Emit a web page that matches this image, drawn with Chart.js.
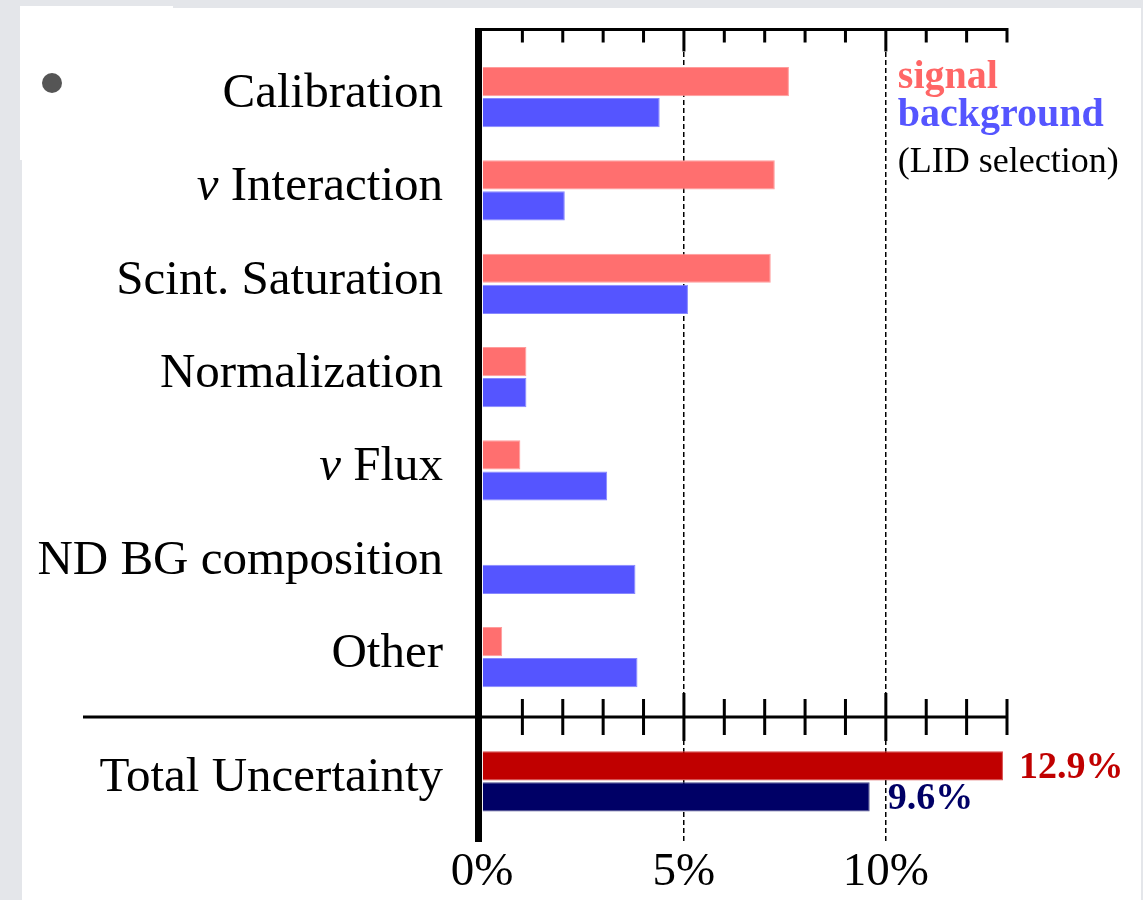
<!DOCTYPE html>
<html>
<head>
<meta charset="utf-8">
<script src="https://cdn.jsdelivr.net/npm/chart.js@4"></script>
<style>
  body { margin: 0; background: #e4e6ea; width: 1143px; height: 900px; position: relative; overflow: hidden; }
  #panel { position: absolute; left: 22px; top: 8px; width: 1119px; height: 892px; background: #fff; }
  #corner { position: absolute; left: 20px; top: 6px; width: 153px; height: 154px; background: #fff; }
  #dot { position: absolute; left: 42px; top: 73px; width: 20px; height: 20px; border-radius: 50%; background: #555; }
  #chart { position: absolute; left: 0; top: 0; }
</style>
</head>
<body>
<div id="panel"></div>
<div id="corner"></div>
<div id="dot"></div>
<canvas id="chart" width="1143" height="900"></canvas>
<script>
// data
let categories = ["Calibration", "ν Interaction", "Scint. Saturation", "Normalization", "ν Flux", "ND BG composition", "Other"];
let signal = [7.6, 7.25, 7.15, 1.1, 0.95, 0, 0.5];
let background = [4.4, 2.05, 5.1, 1.1, 3.1, 3.8, 3.85];
let totalLabel = "Total Uncertainty";
let totalSignal = 12.9;
let totalBackground = 9.6;
let xTickValues = [0, 5, 10];
let xMax = 13;

// layout of the rows on the y scale
let totalPos = 7.33;
let splitPos = 6.64;
let rowLabels = categories.concat([totalLabel]);
let rowPos = categories.map((c, i) => i).concat([totalPos]);

let serif = "'Liberation Serif', 'DejaVu Serif', serif";

// row labels (the greek nu is set in italic, so they are drawn here)
const rowText = {
    id: "rowText",
    afterDraw(chart) {
        const { ctx, chartArea, scales: { y } } = chart;
        const right = chartArea.left - 39;
        ctx.save();
        ctx.fillStyle = "#000";
        ctx.textBaseline = "middle";
        ctx.textAlign = "right";
        rowLabels.forEach((label, i) => {
            const py = y.getPixelForValue(rowPos[i]) - 3;
            ctx.font = "49px " + serif;
            if (label.startsWith("ν ")) {
                const rest = label.slice(1);
                ctx.fillText(rest, right, py);
                const w = ctx.measureText(rest).width;
                ctx.font = "italic 49px " + serif;
                ctx.fillText("ν", right - w, py);
            } else {
                ctx.fillText(label, right, py);
            }
        });
        ctx.restore();
    }
};

// extra axis lines, minor ticks and text
const decorations = {
    id: "decorations",
    afterDatasetsDraw(chart) {
        const { ctx, chartArea, scales: { x, y } } = chart;
        const right = x.getPixelForValue(xMax);
        const midY = y.getPixelForValue(splitPos);
        const top = chartArea.top + 1.5;

        ctx.save();
        ctx.fillStyle = "#000";
        ctx.strokeStyle = "#000";

        // thick vertical axis
        ctx.fillRect(chartArea.left - 7, chartArea.top, 7, chartArea.bottom - chartArea.top);

        ctx.lineWidth = 3;
        ctx.beginPath();
        ctx.moveTo(chartArea.left - 7, top);
        ctx.lineTo(right + 1.5, top);
        ctx.moveTo(83, midY);
        ctx.lineTo(right + 1.5, midY);

        for (let v = 1; v <= xMax; v++) {
            const px = x.getPixelForValue(v);
            const major = v % 5 === 0;
            ctx.moveTo(px, top);
            ctx.lineTo(px, top + (major ? 22 : 13));
            ctx.moveTo(px, midY - (major ? 24 : 18));
            ctx.lineTo(px, midY + (major ? 24 : 18));
        }
        ctx.stroke();

        // total value labels
        ctx.font = "bold 38px " + serif;
        ctx.textBaseline = "middle";
        ctx.textAlign = "left";
        const sBar = chart.getDatasetMeta(0).data[categories.length];
        const bBar = chart.getDatasetMeta(1).data[categories.length];
        ctx.fillStyle = "#c00000";
        ctx.fillText(totalSignal + "%", sBar.x + 16, sBar.y + 2);
        ctx.fillStyle = "#000066";
        ctx.fillText(totalBackground + "%", bBar.x + 18, bBar.y + 2);

        // legend
        const lx = x.getPixelForValue(10) + 12;
        ctx.font = "bold 40px " + serif;
        ctx.fillStyle = "#ff6666";
        ctx.fillText("signal", lx, 78);
        ctx.fillStyle = "#5555ff";
        ctx.fillText("background", lx, 116);
        ctx.font = "36px " + serif;
        ctx.fillStyle = "#000";
        ctx.fillText("(LID selection)", lx, 163);
        ctx.restore();
    }
};

function toPoints(values, total) {
    return values.map((v, i) => ({ x: v, y: rowPos[i] })).concat([{ x: total, y: totalPos }]);
}

let ctx = document.getElementById("chart").getContext("2d");

let chart = new Chart(ctx, {
    type: "bar",
    data: {
        datasets: [{
            label: "signal",
            data: toPoints(signal, totalSignal),
            backgroundColor: c => c.dataIndex === categories.length ? "#c00000" : "#ff6f6f",
            borderColor: c => c.dataIndex === categories.length ? "#d84a4a" : "#ff9c9c",
            borderWidth: 1
        }, {
            label: "background",
            data: toPoints(background, totalBackground),
            backgroundColor: c => c.dataIndex === categories.length ? "#000066" : "#5555ff",
            borderColor: c => c.dataIndex === categories.length ? "#4a4a8a" : "#8888ff",
            borderWidth: 1
        }]
    },
    options: {
        indexAxis: "y",
        responsive: false,
        devicePixelRatio: 1,
        animation: false,
        categoryPercentage: 0.665,
        barPercentage: 0.94,
        layout: { padding: { top: 28, right: 136, bottom: 0, left: 0 } },
        plugins: { legend: { display: false }, tooltip: { enabled: false } },
        scales: {
            x: {
                type: "linear",
                position: "bottom",
                min: 0,
                max: xMax,
                afterFit: axis => {
                    axis.height = 58;
                    axis.paddingLeft = 0;
                    axis.paddingRight = 0;
                },
                afterBuildTicks: axis => { axis.ticks = xTickValues.map(v => ({ value: v })); },
                border: { display: false, dash: [5, 3] },
                grid: {
                    drawTicks: false,
                    color: c => c.tick && c.tick.value === 0 ? "rgba(0,0,0,0)" : "#000",
                    lineWidth: 1.5
                },
                ticks: {
                    padding: 2,
                    color: "#000",
                    font: { family: serif, size: 47 },
                    callback: v => v + "%"
                }
            },
            y: {
                type: "linear",
                reverse: true,
                offset: false,
                min: -0.74,
                max: 7.98,
                afterFit: axis => {
                    axis.width = 482;
                    axis.paddingTop = 0;
                    axis.paddingBottom = 0;
                },
                afterBuildTicks: axis => { axis.ticks = rowPos.map(v => ({ value: v })); },
                border: { display: false },
                grid: { display: false, drawTicks: false },
                ticks: { display: false }
            }
        }
    },
    plugins: [decorations, rowText]
});
</script>
</body>
</html>
